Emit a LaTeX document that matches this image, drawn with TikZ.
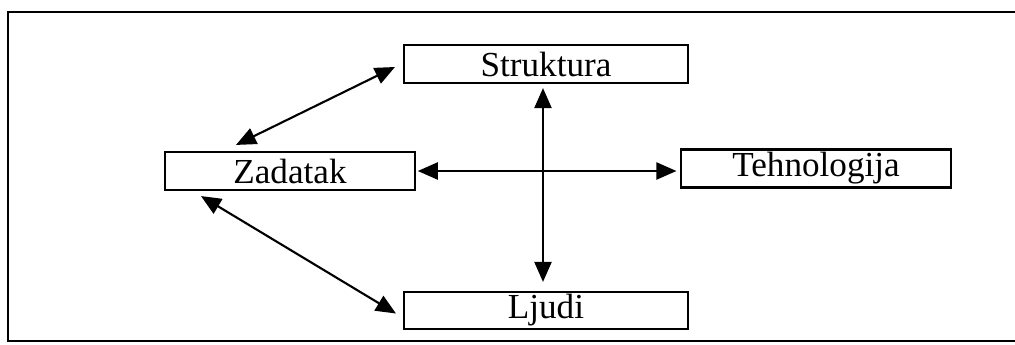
\documentclass[tikz,border=0pt]{standalone}
\usepackage{fontspec}
\setmainfont{Liberation Serif}
\usetikzlibrary{arrows.meta, positioning, calc}

\begin{document}
\begin{tikzpicture}[x=0.02cm, y=-0.02cm,
		kutija/.style={draw, line width=1.2pt, minimum height=0.76cm, inner sep=0pt, font=\fontsize{20}{23}\selectfont},
		veza/.style={line width=1.2pt, {Triangle[length=0.4cm, width=0.34cm]}-{Triangle[length=0.4cm, width=0.34cm]}}]
		\useasboundingbox (0,0) rectangle (1015,345);
		\draw[line width=1.6pt] (1015,12) -- (8,12) -- (8,341) -- (1015,341);
		\node[kutija, minimum width=5.68cm] (struktura) at (546,64) {Struktura};
		\node[kutija, minimum width=5cm] (zadatak) at (290,171) {Zadatak};
		\node[kutija, minimum width=5.4cm] (tehnologija) at (816,168.5) {Tehnologija};
		\node[kutija, minimum width=5.68cm, minimum height=0.74cm] (ljudi) at (546,310.5) {Ljudi};
		\draw[veza] ([shift={(-3,4)}]struktura.south) -- ([shift={(-3,-9)}]ljudi.north);
		\draw[veza, shorten <=1pt, shorten >=2pt] (zadatak.east) -- (zadatak.east -| tehnologija.west);
		\draw[veza] ([shift={(72,-6)}]zadatak.north west) -- ([shift={(-8,3)}]struktura.west);
		\draw[veza] ([shift={(37,5)}]zadatak.south west) -- ([shift={(-7,3)}]ljudi.west);
	\end{tikzpicture}
\end{document}
